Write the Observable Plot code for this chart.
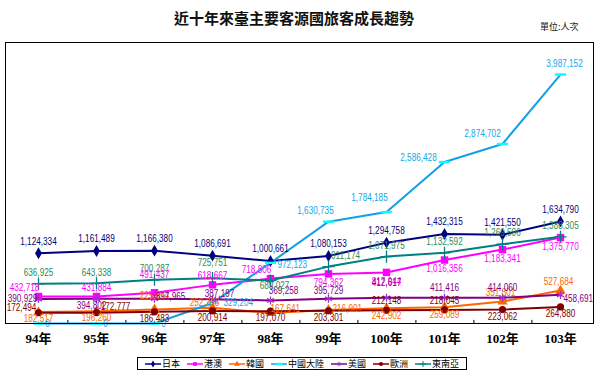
<!DOCTYPE html>
<html>
<head>
<meta charset="utf-8">
<script src="https://cdn.jsdelivr.net/npm/d3@7"></script>
<script src="https://cdn.jsdelivr.net/npm/@observablehq/plot@0.6"></script>
<style>
  html, body { margin: 0; padding: 0; background: #fff; }
  #wrap { position: relative; width: 600px; height: 376px; overflow: hidden; background: #fff; }
  #chart { position: absolute; left: 0; top: 0; }
  #title { position: absolute; left: 0; width: 588px; top: 8px; text-align: center;
    font-family: "Noto Sans CJK TC", sans-serif; font-size: 15px; font-weight: bold; color: #111; line-height: 20px; }
  #unit { position: absolute; left: 540px; top: 21px; font-family: "Noto Sans CJK TC", sans-serif; font-size: 9px; color: #111; line-height: 12px; }
  #legend { position: absolute; left: 137px; top: 357px; width: 328px; height: 11px; border: 1px solid #000;
    display: flex; align-items: center; justify-content: space-evenly;
    font-family: "Noto Sans CJK TC", sans-serif; font-size: 9px; line-height: 11px; color:#000; background:#fff; }
  .li { display: flex; align-items: center; }
  .li svg { margin-right: 1px; }
</style>
</head>
<body>
<div id="wrap">
  <div id="chart"></div>
  <div id="title">近十年來臺主要客源國旅客成長趨勢</div>
  <div id="unit">單位:人次</div>
  <div id="legend"></div>
</div>
<script>
const years = ["94年","95年","96年","97年","98年","99年","100年","101年","102年","103年"];
const seriesNames = ["日本","港澳","韓國","中國大陸","美國","歐洲","東南亞"];
const japan = [1124334,1161489,1166380,1086691,1000661,1080153,1294758,1432315,1421550,1634790];
const hkMacao = [432718,431884,491437,618667,718806,794362,817944,1016356,1183341,1375770];
const korea = [182517,196260,225814,252266,167641,216901,242902,259089,351301,527684];
const china = [0,0,0,329204,972123,1630735,1784185,2586428,2874702,3987152];
const usa = [390929,394802,397965,387197,369258,395729,412617,411416,414060,458691];
const europe = [172494,172777,186483,200914,197070,203301,212148,218045,223062,264880];
const seAsia = [636925,643338,700287,725751,689027,911174,1071975,1132592,1269596,1388305];

const values = [japan, hkMacao, korea, china, usa, europe, seAsia];

const barSymbol = { draw(ctx, size) { const w = Math.sqrt(size) * 0.9; ctx.moveTo(-w, -1.2); ctx.lineTo(w, -1.2); ctx.lineTo(w, 1.2); ctx.lineTo(-w, 1.2); ctx.closePath(); } };

const styles = [
  {line:"#000080", label:"#000080", symbol:"diamond", fill:"#000080", r:3.6},
  {line:"#ff00ff", label:"#ff00ff", symbol:"square", fill:"#ff00ff", r:4.2},
  {line:"#ff6600", label:"#ff6600", symbol:"triangle", fill:"#ff6600", r:3.8},
  {line:"#11a0e6", label:"#11a8e8", symbol:barSymbol, fill:"#00ffff", r:3.5},
  {line:"#800080", label:"#800080", symbol:"asterisk", stroke:"#9933cc", r:3.8},
  {line:"#800000", label:"#800000", symbol:"circle", fill:"#800000", r:3.6},
  {line:"#008080", label:"#2e8b57", symbol:"plus", stroke:"#008080", r:4}
];

// label nudges (pixels) per series, by point index
const nudge = [
  i => [0, -12, "middle"],
  i => i < 5 ? [(i === 0 || i === 4) ? -14 : 0, i === 2 ? -18 : -9, "middle"] : [0, 9, "middle"],
  i => i < 2 ? [0, 7, "middle"] : i === 2 ? [0, -14, "middle"] : i === 3 ? [-8, -5, "middle"]
      : i === 4 ? [0, -4, "start"] : i === 5 ? [4, -1, "start"] : i < 8 ? [0, 7, "middle"] : [-2, -9, "middle"],
  i => i < 3 ? [9, 0, "middle"] : i === 3 ? [11, 0, "start"] : i === 4 ? [7, 2, "start"]
      : [[-13,-11],[-17,-14],[-26,-4],[-20,-10],[4,-11]][i-5].concat("middle"),
  i => [[-16,0],[-5,7],[16,-2],[7,-6],[13,-10],[0,-8],[0,-15],[0,-10],[0,-10]][i]?.concat("middle") ?? [3, 4, "start"],
  i => i === 0 ? [-17, -5, "middle"] : i === 1 ? [19, -6, "middle"] : (i === 6 || i === 7) ? [0, -9, "middle"] : [0, 7, "middle"],
  i => i === 4 ? [4, 5, "middle"] : i === 5 ? [17, -11, "middle"] : i === 3 ? [0, -15, "middle"] : [0, -11, "middle"]
];

const fmt = d3.format(",");
const W = 600, H = 350, mL = 5, mR = 7, mT = 42, mB = 27;
const halfStep = (W - mL - mR) / years.length / 2;
const labelFont = `"Liberation Sans", Arial, sans-serif`;

const marks = [
  Plot.ruleX(years.slice(0, -1), {x: d => d, y1: 0, y2: 50000, dx: halfStep, stroke: "#000"})
];
seriesNames.forEach((name, s) => {
  const data = years.map((y, i) => ({year: y, value: values[s][i], i}));
  marks.push(Plot.line(data, {x: "year", y: "value", stroke: styles[s].line, strokeWidth: 2}));
});
seriesNames.forEach((name, s) => {
  const data = years.map((y, i) => ({year: y, value: values[s][i], i}));
  const st = styles[s];
  marks.push(Plot.dot(data, {x: "year", y: "value", symbol: st.symbol, r: st.r,
    fill: st.fill || "none", stroke: st.stroke || "none", strokeWidth: 1.3}));
});
seriesNames.forEach((name, s) => {
  const st = styles[s];
  years.forEach((y, i) => {
    const [dx, dy, anchor] = nudge[s](i);
    marks.push(Plot.text([{year: y, value: values[s][i]}], {x: "year", y: "value", text: d => fmt(d.value),
      dx, dy, textAnchor: anchor, fill: st.label, fontSize: 10, fontFamily: labelFont}));
  });
});
marks.push(Plot.frame({stroke: "#000"}));

const chart = Plot.plot({
  width: W, height: H,
  marginLeft: mL, marginRight: mR, marginTop: mT, marginBottom: mB,
  style: {background: "transparent", overflow: "visible"},
  x: {type: "point", domain: years, padding: 0.5, label: null},
  y: {domain: [0, 4500000], axis: null},
  marks: [
    Plot.axisX({tickSize: 0, tickPadding: 10, fontSize: 13, fontWeight: "bold",
      fontFamily: `"Liberation Serif", "Noto Sans CJK TC", serif`, fill: "#000"}),
    ...marks
  ]
});
document.getElementById("chart").appendChild(chart);

// condense the data labels horizontally
chart.querySelectorAll('g[aria-label="text"] text').forEach(t => {
  const tr = t.getAttribute("transform");
  if (tr) {
    t.setAttribute("transform", tr + " scale(0.82,1)");
  } else {
    const x = +t.getAttribute("x") || 0, y = +t.getAttribute("y") || 0;
    t.removeAttribute("x"); t.removeAttribute("y");
    t.setAttribute("transform", `translate(${x},${y}) scale(0.82,1)`);
  }
});

// legend
const legend = document.getElementById("legend");
seriesNames.forEach((name, s) => {
  const st = styles[s];
  const item = document.createElement("div");
  item.className = "li";
  const sw = d3.create("svg").attr("width", 16).attr("height", 10);
  sw.append("line").attr("x1", 0).attr("x2", 16).attr("y1", 5).attr("y2", 5).attr("stroke", st.line).attr("stroke-width", 1.5);
  const symType = typeof st.symbol === "string"
    ? ({diamond: d3.symbolDiamond, square: d3.symbolSquare, triangle: d3.symbolTriangle, asterisk: d3.symbolAsterisk, circle: d3.symbolCircle, plus: d3.symbolPlus})[st.symbol]
    : st.symbol;
  sw.append("path").attr("transform", "translate(8,5)")
    .attr("d", d3.symbol(symType, 14)())
    .attr("fill", st.fill || "none").attr("stroke", st.stroke || "none");
  item.appendChild(sw.node());
  const t = document.createElement("span");
  t.textContent = name;
  item.appendChild(t);
  legend.appendChild(item);
});
</script>
</body>
</html>
